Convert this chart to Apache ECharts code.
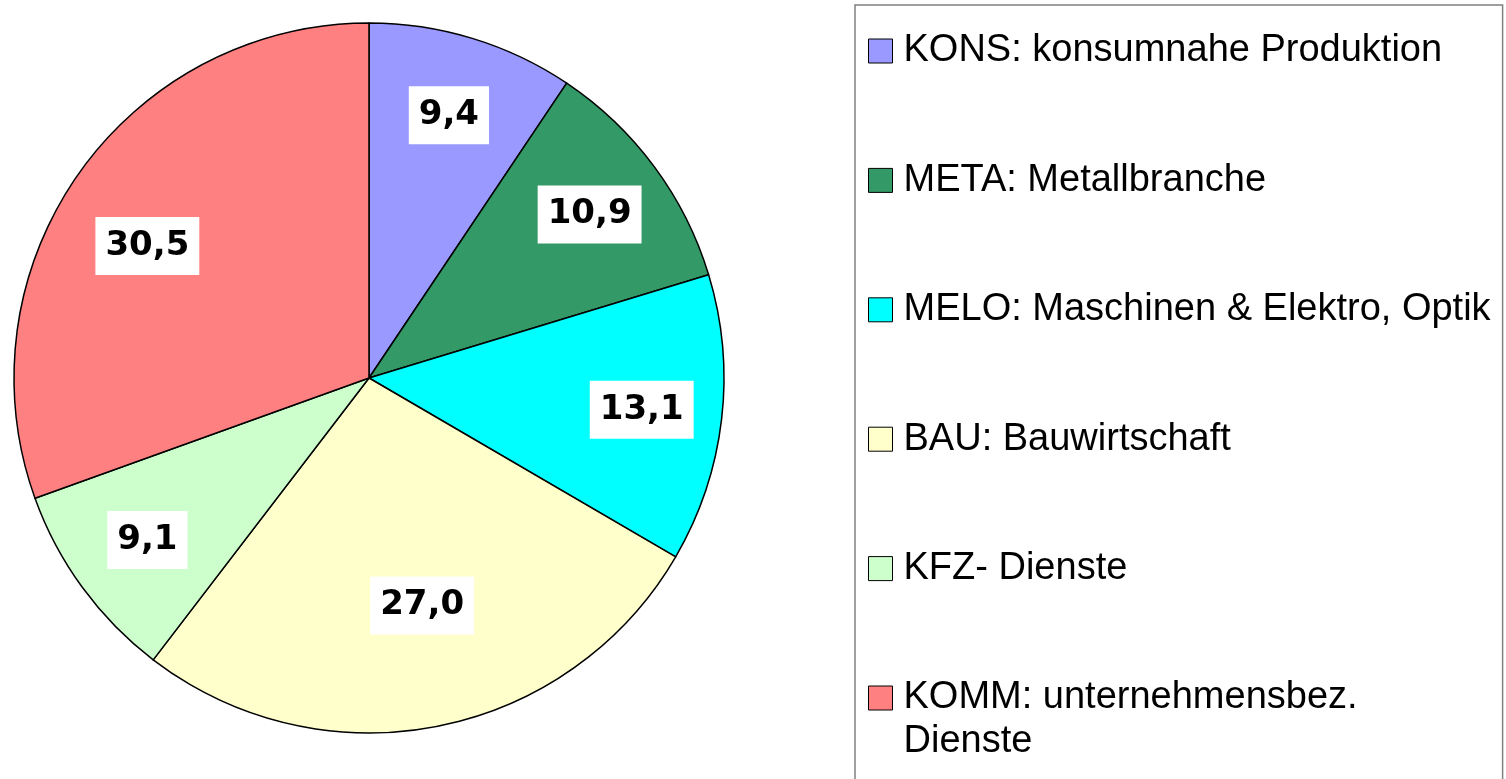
<!DOCTYPE html>
<html>
<head>
<meta charset="utf-8">
<script src="https://cdn.jsdelivr.net/npm/echarts@6/dist/echarts.min.js"></script>
<style>
    html, body { margin: 0; padding: 0; background: #fff; }
    #chart { width: 1506px; height: 779px; }
</style>
</head>
<body>
<div id="chart"></div>
<script>
var categories = ['KONS: konsumnahe Produktion', 'META: Metallbranche', 'MELO: Maschinen & Elektro, Optik',
    'BAU: Bauwirtschaft', 'KFZ- Dienste', 'KOMM: unternehmensbez.\nDienste'];
var values = [9.4, 10.9, 13.1, 27.0, 9.1, 30.5];
var colors = ['#9999ff', '#339966', '#00ffff', '#ffffcc', '#ccffcc', '#ff8080'];

var R = 355;
var legendFont = 'Liberation Sans, Arial, sans-serif';

var pieData = categories.map(function (name, i) {
    return { name: name, value: values[i], itemStyle: { color: colors[i] } };
});

var myChart = echarts.init(document.getElementById('chart'));
var option = {
    backgroundColor: '#fff',
    animation: false,
    legend: {
        orient: 'vertical',
        left: 855,
        top: 5,
        height: 900,
        padding: [24, 12, 90, 13],
        borderColor: '#808080',
        borderWidth: 1.5,
        itemWidth: 24,
        itemHeight: 24,
        itemGap: 85.4,
        icon: 'rect',
        itemStyle: { borderColor: '#000', borderWidth: 1 },
        formatter: function (name) {
            // wrapped entry: 2nd line gets zero line height so the swatch stays on line 1
            var parts = name.split('\n');
            if (parts.length < 2) return name;
            return parts[0] + '\n{hang|' + parts[1] + '}';
        },
        textStyle: {
            fontFamily: legendFont,
            fontSize: 38,
            lineHeight: 44,
            color: '#000',
            padding: [0, 0, 0, 6],
            rich: {
                hang: {
                    fontFamily: legendFont,
                    fontSize: 38,
                    color: '#000',
                    lineHeight: 0,
                    height: 44,
                    verticalAlign: 'top'
                }
            }
        },
        data: categories
    },
    series: [{
        type: 'pie',
        center: [369, 378],
        radius: [0, R],
        startAngle: 90,
        clockwise: true,
        silent: true,
        label: { show: false },
        labelLine: { show: false },
        itemStyle: { borderColor: '#000', borderWidth: 1.5 },
        data: pieData
    }, {
        // transparent ring only used to push the value labels outward
        type: 'pie',
        center: [369, 378],
        radius: [R * 0.53, R],
        startAngle: 90,
        clockwise: true,
        silent: true,
        legendHoverLink: false,
        itemStyle: { color: 'rgba(0,0,0,0)', borderWidth: 0 },
        label: {
            show: true,
            position: 'inside',
            formatter: function (p) {
                return p.value.toFixed(1).replace('.', ',');
            },
            fontFamily: 'DejaVu Sans, Verdana, sans-serif',
            fontWeight: 'bold',
            fontSize: 34,
            lineHeight: 40,
            color: '#000',
            backgroundColor: '#fff',
            padding: [9, 10]
        },
        labelLayout: function (params) {
            // the two big slices carry their labels a bit closer to the centre
            if (params.dataIndex == 3) return { dy: -42 };
            if (params.dataIndex == 5) return { dx: 3, dy: 26 };
            return {};
        },
        labelLine: { show: false },
        data: categories.map(function (name, i) {
            return { name: name, value: values[i] };
        })
    }]
};
myChart.setOption(option);
</script>
</body>
</html>
